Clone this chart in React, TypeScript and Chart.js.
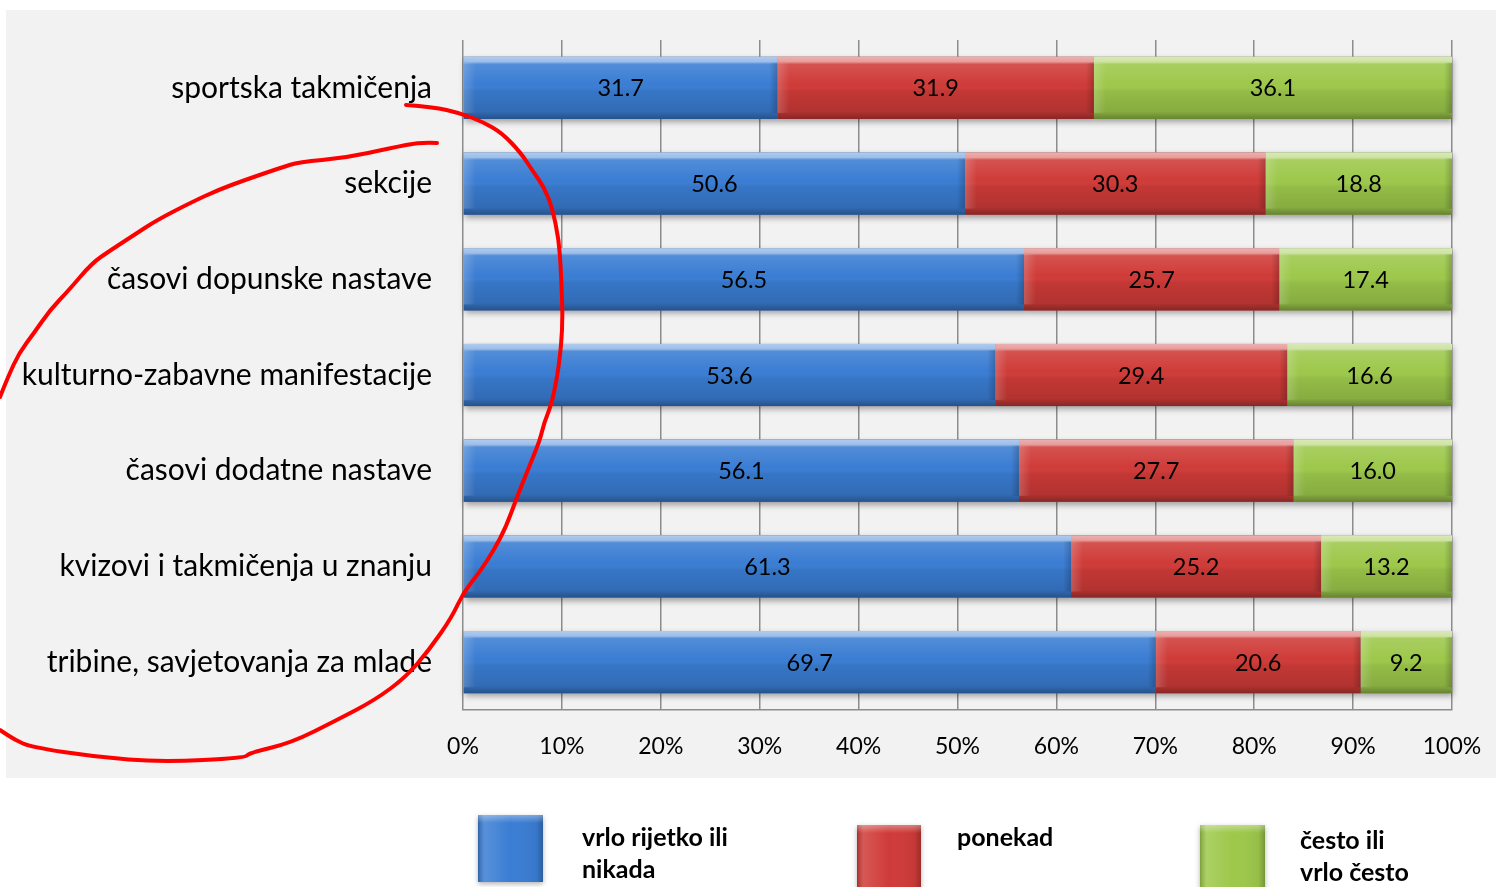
import React, { useEffect, useRef } from "react";
import { Chart, registerables } from "chart.js";

Chart.register(...registerables);

const categories = [
  "sportska takmičenja",
  "sekcije",
  "časovi dopunske nastave",
  "kulturno-zabavne manifestacije",
  "časovi dodatne nastave",
  "kvizovi i takmičenja u znanju",
  "tribine, savjetovanja za mlade",
];
const rarelyOrNever = [31.7, 50.6, 56.5, 53.6, 56.1, 61.3, 69.7];
const sometimes = [31.9, 30.3, 25.7, 29.4, 27.7, 25.2, 20.6];
const oftenOrVeryOften = [36.1, 18.8, 17.4, 16.6, 16.0, 13.2, 9.2];
const seriesLabels = [["vrlo rijetko ili", "nikada"], ["ponekad"], ["često ili", "vrlo često"]];
const seriesColors = ["#3a7dd3", "#cf3b38", "#9dc84b"];
const xTickValues = [0, 10, 20, 30, 40, 50, 60, 70, 80, 90, 100];

// hand-drawn red annotation (decoration, not data)
const annotationLeftArc: [number, number][] = [
  [437, 143], [421, 142], [391, 148], [345, 158], [299, 162], [280, 168], [245, 180], [218, 190],
  [192, 202], [157, 220], [134, 235], [111, 250], [92, 263], [69, 290], [50, 310], [34, 333],
  [19, 353], [8, 377], [0, 397],
];
const annotationRightArc: [number, number][] = [
  [406, 105], [433, 107], [460, 113], [483, 122], [502, 133], [521, 153], [532, 170], [544, 187],
  [552, 207], [559, 240], [561, 273], [563, 323], [559, 367], [552, 403], [544, 423], [540, 440],
  [529, 467], [517, 497], [506, 527], [494, 550], [479, 573], [463, 593], [452, 617], [429, 650],
  [406, 677], [375, 700], [337, 720], [291, 743], [249, 753], [245, 758], [161, 762], [96, 757],
  [31, 747], [15, 740], [0, 730],
];

const FONT = "Lato, 'Open Sans', sans-serif";

function normalized(): number[][] {
  const raw = [rarelyOrNever, sometimes, oftenOrVeryOften];
  return raw.map((arr) =>
    arr.map((v, i) => (v / (rarelyOrNever[i] + sometimes[i] + oftenOrVeryOften[i])) * 100)
  );
}

function drawSmooth(ctx: CanvasRenderingContext2D, pts: [number, number][]) {
  ctx.beginPath();
  ctx.moveTo(pts[0][0], pts[0][1]);
  for (let i = 1; i < pts.length - 1; i++) {
    const mx = (pts[i][0] + pts[i + 1][0]) / 2;
    const my = (pts[i][1] + pts[i + 1][1]) / 2;
    ctx.quadraticCurveTo(pts[i][0], pts[i][1], mx, my);
  }
  const last = pts[pts.length - 1];
  ctx.lineTo(last[0], last[1]);
  ctx.stroke();
}

const backgroundPlugin = {
  id: "bgPlugin",
  beforeDraw(chart: any) {
    const ctx = chart.ctx as CanvasRenderingContext2D;
    ctx.save();
    ctx.fillStyle = "#ffffff";
    ctx.fillRect(0, 0, chart.width, chart.height);
    ctx.fillStyle = "#f2f2f2";
    ctx.fillRect(6, 10, chart.width - 6, 768);
    ctx.restore();
  },
};

const shadowPlugin = {
  id: "shadowPlugin",
  beforeDatasetsDraw(chart: any) {
    const ctx = chart.ctx as CanvasRenderingContext2D;
    ctx.save();
    chart.data.datasets.forEach((_: any, di: number) => {
      const meta = chart.getDatasetMeta(di);
      meta.data.forEach((el: any) => {
        const { x, y, base, height } = el.getProps(["x", "y", "base", "height"], true);
        const left = Math.min(x, base);
        const w = Math.abs(x - base);
        ctx.shadowColor = "rgba(0,0,0,0.35)";
        ctx.shadowBlur = 6;
        ctx.shadowOffsetX = 1;
        ctx.shadowOffsetY = 3;
        ctx.fillStyle = "rgba(120,120,120,1)";
        ctx.fillRect(left, y - height / 2, w, height);
      });
    });
    ctx.restore();
  },
};

const overlayPlugin = {
  id: "overlayPlugin",
  afterDatasetsDraw(chart: any) {
    const ctx = chart.ctx as CanvasRenderingContext2D;
    const raw = [rarelyOrNever, sometimes, oftenOrVeryOften];
    ctx.save();
    chart.data.datasets.forEach((_: any, di: number) => {
      const meta = chart.getDatasetMeta(di);
      meta.data.forEach((el: any, i: number) => {
        const { x, y, base, height } = el.getProps(["x", "y", "base", "height"], true);
        const left = Math.min(x, base);
        const w = Math.abs(x - base);
        const top = y - height / 2;
        const g = ctx.createLinearGradient(0, top, 0, top + height);
        g.addColorStop(0, "rgba(255,255,255,0.6)");
        g.addColorStop(0.08, "rgba(255,255,255,0.5)");
        g.addColorStop(0.12, "rgba(255,255,255,0.12)");
        g.addColorStop(0.45, "rgba(255,255,255,0.0)");
        g.addColorStop(0.55, "rgba(0,0,0,0.06)");
        g.addColorStop(0.88, "rgba(0,0,0,0.14)");
        g.addColorStop(1, "rgba(0,0,0,0.35)");
        ctx.fillStyle = g;
        ctx.fillRect(left, top, w, height);
        const gl = ctx.createLinearGradient(left, 0, left + 12, 0);
        gl.addColorStop(0, "rgba(255,255,255,0.18)");
        gl.addColorStop(1, "rgba(255,255,255,0)");
        ctx.fillStyle = gl;
        ctx.fillRect(left, top + 6, 12, height - 12);
        const gr = ctx.createLinearGradient(left + w - 8, 0, left + w, 0);
        gr.addColorStop(0, "rgba(0,0,0,0)");
        gr.addColorStop(1, "rgba(0,0,0,0.2)");
        ctx.fillStyle = gr;
        ctx.fillRect(left + w - 8, top + 6, 8, height - 12);

        ctx.fillStyle = "#000000";
        ctx.font = `23.5px ${FONT}`;
        ctx.textAlign = "center";
        ctx.textBaseline = "middle";
        ctx.fillText(raw[di][i].toFixed(1), left + w / 2, y + 1);
      });
    });
    ctx.restore();
  },
};

const legendPlugin = {
  id: "customLegend",
  afterDraw(chart: any) {
    const ctx = chart.ctx as CanvasRenderingContext2D;
    const boxes = [
      { x: 478, y: 815, w: 65, h: 67, tx: 582, ty: 838 },
      { x: 857, y: 825, w: 64, h: 66, tx: 957, ty: 838 },
      { x: 1200, y: 825, w: 65, h: 66, tx: 1300, ty: 841 },
    ];
    ctx.save();
    boxes.forEach((b, i) => {
      ctx.shadowColor = "rgba(0,0,0,0.3)";
      ctx.shadowBlur = 5;
      ctx.shadowOffsetY = 2;
      ctx.fillStyle = seriesColors[i];
      ctx.fillRect(b.x, b.y, b.w, b.h);
      ctx.shadowColor = "transparent";
      const g = ctx.createLinearGradient(b.x, 0, b.x + b.w, 0);
      g.addColorStop(0, "rgba(0,0,0,0.2)");
      g.addColorStop(0.1, "rgba(255,255,255,0.15)");
      g.addColorStop(0.5, "rgba(255,255,255,0)");
      g.addColorStop(0.9, "rgba(0,0,0,0.05)");
      g.addColorStop(1, "rgba(0,0,0,0.25)");
      ctx.fillStyle = g;
      ctx.fillRect(b.x, b.y, b.w, b.h);
      const gv = ctx.createLinearGradient(0, b.y, 0, b.y + 8);
      gv.addColorStop(0, "rgba(255,255,255,0.35)");
      gv.addColorStop(1, "rgba(255,255,255,0)");
      ctx.fillStyle = gv;
      ctx.fillRect(b.x, b.y, b.w, 8);
      ctx.fillStyle = "#000000";
      ctx.font = `bold 25px ${FONT}`;
      ctx.textAlign = "left";
      ctx.textBaseline = "middle";
      seriesLabels[i].forEach((line, li) => {
        ctx.fillText(line, b.tx, b.ty + li * 32);
      });
    });
    ctx.restore();
  },
};

const annotationPlugin = {
  id: "annotation",
  afterDraw(chart: any) {
    const ctx = chart.ctx as CanvasRenderingContext2D;
    ctx.save();
    ctx.strokeStyle = "#ff0000";
    ctx.lineWidth = 4;
    ctx.lineJoin = "round";
    ctx.lineCap = "round";
    drawSmooth(ctx, annotationLeftArc);
    drawSmooth(ctx, annotationRightArc);
    ctx.restore();
  },
};

export default function App() {
  const canvasRef = useRef<HTMLCanvasElement | null>(null);

  useEffect(() => {
    if (!canvasRef.current) return;
    const data = normalized();
    const chart = new Chart(canvasRef.current, {
      type: "bar",
      data: {
        labels: categories,
        datasets: [0, 1, 2].map((k) => ({
          label: seriesLabels[k].join(" "),
          data: data[k],
          backgroundColor: seriesColors[k],
          borderWidth: 0,
          barPercentage: 0.65,
          categoryPercentage: 1,
        })),
      },
      options: {
        indexAxis: "y",
        responsive: false,
        maintainAspectRatio: false,
        animation: false,
        events: [],
        layout: { padding: { top: 40, right: 44, bottom: 109, left: 0 } },
        plugins: {
          legend: { display: false },
          tooltip: { enabled: false },
        },
        scales: {
          x: {
            stacked: true,
            min: 0,
            max: 100,
            afterBuildTicks: (scale: any) => {
              scale.ticks = xTickValues.map((v) => ({ value: v }));
            },
            ticks: {
              callback: (v: any) => `${v}%`,
              color: "#000000",
              font: { family: FONT, size: 23 },
              padding: 23,
              maxRotation: 0,
            },
            grid: { color: "#8c8c8c", lineWidth: 1.5, drawTicks: false },
            border: { color: "#8c8c8c", width: 1.5 },
            afterFit: (scale: any) => {
              scale.height = 68;
              scale.paddingLeft = 0;
              scale.paddingRight = 0;
            },
          },
          y: {
            stacked: true,
            ticks: {
              color: "#000000",
              font: { family: FONT, size: 30 },
              padding: 31,
            },
            grid: { display: false, drawTicks: false },
            border: { display: false },
            afterFit: (scale: any) => {
              scale.width = 463;
              scale.paddingTop = 0;
              scale.paddingBottom = 0;
            },
          },
        },
      },
      plugins: [backgroundPlugin, shadowPlugin, overlayPlugin, legendPlugin, annotationPlugin],
    });
    return () => chart.destroy();
  }, []);

  return (
    <div style={{ position: "fixed", left: 0, top: 0, width: 1496, height: 887 }}>
      <canvas ref={canvasRef} width={1496} height={887} style={{ width: 1496, height: 887 }} />
    </div>
  );
}
